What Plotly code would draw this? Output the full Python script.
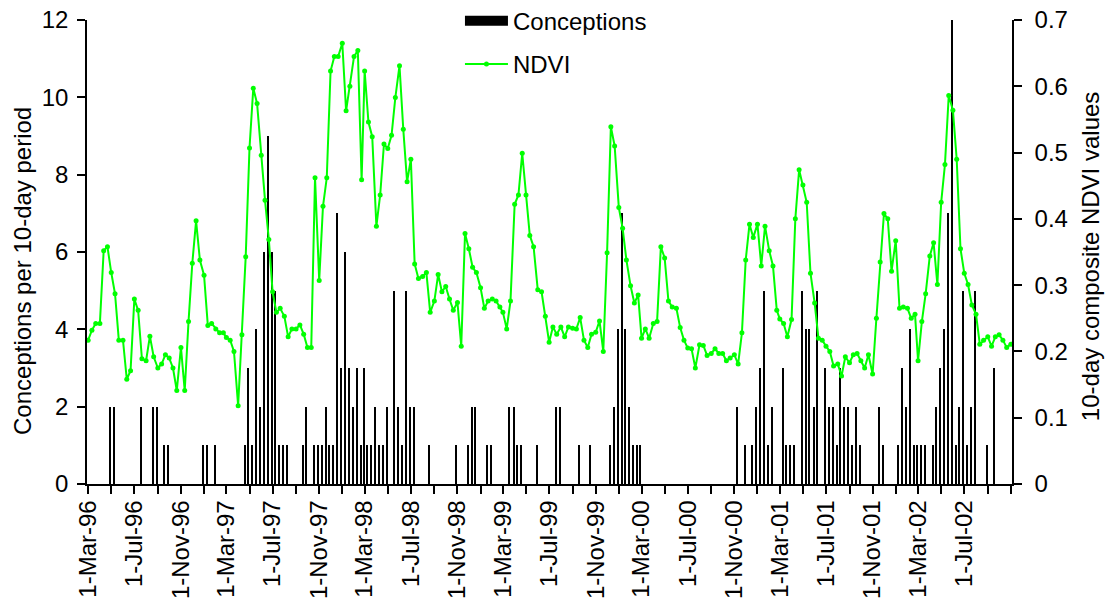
import pandas as pd
import plotly.graph_objects as go

# ---------------- data ----------------
# 10-day periods (dekads: 1st, 11th, 21st of each month), 1-Mar-96 .. 1-Nov-02
first_month = "1996-03-01"
last_month = "2002-11-01"
n_periods = 241

# 10-day composite NDVI values (right axis)
ndvi = [
    0.217, 0.232, 0.242, 0.242, 0.352, 0.358, 0.319, 0.287, 0.217, 0.217,
    0.158, 0.171, 0.279, 0.262, 0.189, 0.186, 0.223, 0.192, 0.175, 0.181,
    0.195, 0.190, 0.175, 0.141, 0.206, 0.141, 0.245, 0.333, 0.397, 0.338,
    0.315, 0.239, 0.242, 0.234, 0.228, 0.228, 0.221, 0.217, 0.200, 0.118,
    0.225, 0.343, 0.507, 0.597, 0.574, 0.496, 0.428, 0.369, 0.290, 0.259,
    0.265, 0.253, 0.222, 0.234, 0.234, 0.240, 0.226, 0.206, 0.206, 0.462,
    0.307, 0.419, 0.462, 0.623, 0.645, 0.645, 0.665, 0.563, 0.600, 0.645,
    0.654, 0.459, 0.623, 0.546, 0.524, 0.389, 0.436, 0.513, 0.506, 0.526,
    0.583, 0.631, 0.535, 0.456, 0.490, 0.332, 0.310, 0.313, 0.319, 0.259,
    0.276, 0.316, 0.290, 0.298, 0.279, 0.262, 0.274, 0.208, 0.378, 0.355,
    0.327, 0.319, 0.296, 0.265, 0.276, 0.279, 0.276, 0.267, 0.259, 0.234,
    0.276, 0.422, 0.436, 0.499, 0.436, 0.375, 0.358, 0.293, 0.290, 0.253,
    0.214, 0.237, 0.226, 0.237, 0.222, 0.237, 0.235, 0.234, 0.251, 0.217,
    0.206, 0.226, 0.229, 0.246, 0.200, 0.349, 0.539, 0.510, 0.417, 0.386,
    0.338, 0.299, 0.273, 0.285, 0.220, 0.234, 0.220, 0.242, 0.245, 0.358,
    0.341, 0.276, 0.267, 0.265, 0.236, 0.217, 0.205, 0.204, 0.175, 0.210,
    0.209, 0.194, 0.197, 0.204, 0.197, 0.197, 0.186, 0.190, 0.195, 0.181,
    0.228, 0.338, 0.392, 0.372, 0.392, 0.329, 0.389, 0.352, 0.329, 0.262,
    0.249, 0.242, 0.222, 0.248, 0.400, 0.474, 0.451, 0.425, 0.318, 0.273,
    0.220, 0.217, 0.208, 0.200, 0.178, 0.181, 0.163, 0.192, 0.183, 0.195,
    0.197, 0.186, 0.175, 0.195, 0.166, 0.250, 0.335, 0.408, 0.400, 0.321,
    0.367, 0.265, 0.267, 0.265, 0.250, 0.256, 0.186, 0.245, 0.287, 0.344,
    0.364, 0.301, 0.425, 0.482, 0.586, 0.564, 0.490, 0.355, 0.318, 0.301,
    0.270, 0.256, 0.211, 0.217, 0.222, 0.208, 0.222, 0.225, 0.217, 0.206,
    0.211,
]

# Conceptions per 10-day period (left axis)
conceptions = [
    0, 0, 0, 0, 0, 0, 2, 2, 0, 0,   0, 0, 0, 0, 2, 0, 0, 2, 2, 0,
    1, 1, 0, 0, 0, 0, 0, 0, 0, 0,   1, 1, 0, 1, 0, 0, 0, 0, 0, 0,
    0, 1, 3, 1, 4, 2, 6, 9, 6, 5,   1, 1, 1, 0, 0, 0, 1, 2, 0, 1,
    1, 1, 2, 1, 1, 7, 3, 6, 3, 2,   3, 1, 3, 1, 1, 2, 1, 1, 2, 0,
    5, 2, 1, 5, 2, 2, 0, 0, 0, 1,   0, 0, 0, 0, 0, 0, 1, 0, 0, 1,
    2, 2, 0, 0, 1, 1, 0, 0, 0, 0,   2, 2, 1, 1, 0, 0, 0, 1, 0, 0,
    0, 0, 2, 2, 0, 0, 0, 0, 1, 0,   0, 1, 0, 0, 0, 0, 1, 2, 4, 7,
    4, 2, 1, 1, 1, 0, 0, 0, 0, 0,   0, 0, 0, 0, 0, 0, 0, 0, 0, 0,
    0, 0, 0, 0, 0, 0, 0, 0, 0, 2,   0, 1, 0, 1, 2, 3, 5, 1, 2, 0,
    0, 3, 1, 1, 1, 0, 5, 4, 4, 2,   5, 0, 3, 2, 2, 1, 3, 2, 2, 1,
    2, 1, 0, 0, 0, 0, 2, 1, 0, 0,   0, 1, 3, 2, 4, 1, 1, 1, 1, 0,
    1, 2, 3, 4, 7, 12, 1, 2, 5, 1,  2, 5, 0, 0, 1, 0, 3, 0, 0, 0,
    0,
]

# x-axis tick labels (every 4 months; ticks every 2 months)
xtick_labels = [
    "1-Mar-96", "1-Jul-96", "1-Nov-96", "1-Mar-97", "1-Jul-97", "1-Nov-97",
    "1-Mar-98", "1-Jul-98", "1-Nov-98", "1-Mar-99", "1-Jul-99", "1-Nov-99",
    "1-Mar-00", "1-Jul-00", "1-Nov-00", "1-Mar-01", "1-Jul-01", "1-Nov-01",
    "1-Mar-02", "1-Jul-02",
]
left_ticks = [0, 2, 4, 6, 8, 10, 12]
right_ticks = [0, 0.1, 0.2, 0.3, 0.4, 0.5, 0.6, 0.7]
left_title = "Conceptions per 10-day period"
right_title = "10-day composite NDVI values"

# ---------------- build ----------------
months = pd.date_range(first_month, last_month, freq="MS")
dates = [m + pd.Timedelta(days=d) for m in months for d in (0, 10, 20)][:n_periods]

tick_dates = list(pd.date_range(first_month, last_month, freq="2MS"))
tick_text = [xtick_labels[i // 2] if (i % 2 == 0 and i // 2 < len(xtick_labels)) else ""
             for i in range(len(tick_dates))]

DAY = 86400000
FONT = "Liberation Sans, Arial, sans-serif"
FS = 24
x_range = ["1996-02-27", "2002-11-04"]

fig = go.Figure()
bar_w = 3.4 * DAY
fig.add_trace(go.Bar(
    x=dates, y=conceptions, name="Conceptions",
    marker=dict(color="black", line=dict(width=0)),
    width=bar_w, offset=-bar_w / 2 - 2.5 * DAY,
    showlegend=False, legendgroup="c",
))
# legend proxy for the bars (wide black block)
fig.add_trace(go.Scatter(
    x=[None], y=[None], mode="lines", name="Conceptions",
    line=dict(color="black", width=13), legendgroup="c", showlegend=True,
))
fig.add_trace(go.Scatter(
    x=dates, y=ndvi, name="NDVI", yaxis="y2", mode="lines+markers",
    line=dict(color="#00ff00", width=2),
    marker=dict(color="#00ff00", size=5, symbol="circle"),
    legendgroup="n",
))

axis_common = dict(showgrid=False, zeroline=False, showline=True,
                   linecolor="black", linewidth=1.5, automargin=False,
                   tickcolor="black", tickwidth=1.5, ticklen=8,
                   ticklabeloverflow="allow",
                   tickfont=dict(family=FONT, size=FS, color="black"))
overlay_common = dict(ticks="inside", ticklen=8, tickwidth=1.5,
                      tickcolor="black", showticklabels=False,
                      showline=False, showgrid=False, zeroline=False,
                      automargin=False)

fig.update_layout(
    width=1107, height=599,
    margin=dict(l=87, r=95, t=20, b=115, autoexpand=False),
    paper_bgcolor="white", plot_bgcolor="white",
    bargap=0,
    font=dict(family=FONT, size=FS, color="black"),
    xaxis=dict(type="date", range=x_range, tickmode="array",
               tickvals=tick_dates, ticktext=tick_text, ticks="outside",
               tickangle=-90, ticklabelstandoff=-3, **axis_common),
    xaxis2=dict(type="date", range=x_range, overlaying="x", anchor="y",
                tickmode="array", tickvals=tick_dates, **overlay_common),
    yaxis=dict(range=[0, 12], tickmode="array", tickvals=left_ticks,
               ticks="outside", ticklabelstandoff=4, **axis_common),
    yaxis3=dict(range=[0, 12], overlaying="y", anchor="x", side="left",
                tickmode="array", tickvals=left_ticks, **overlay_common),
    yaxis2=dict(range=[0, 0.7], overlaying="y", side="right", anchor="x",
                tickmode="array", tickvals=right_ticks, ticks="outside",
                ticklabelstandoff=8, **axis_common),
    yaxis4=dict(range=[0, 0.7], overlaying="y", side="right", anchor="x",
                tickmode="array", tickvals=right_ticks, **overlay_common),
    legend=dict(xref="paper", yref="paper", x=0.4032, y=1.046,
                xanchor="left", yanchor="top",
                bgcolor="rgba(0,0,0,0)", borderwidth=0,
                traceorder="grouped", tracegroupgap=9, itemwidth=43,
                font=dict(family=FONT, size=FS, color="black")),
    annotations=[
        dict(text=left_title, xref="paper", yref="paper", x=-0.0703, y=0.459,
             xanchor="center", yanchor="middle", textangle=-90,
             showarrow=False, font=dict(family=FONT, size=FS, color="black")),
        dict(text=right_title, xref="paper", yref="paper", x=1.0843, y=0.491,
             xanchor="center", yanchor="middle", textangle=-90,
             showarrow=False, font=dict(family=FONT, size=FS, color="black")),
    ],
)

fig.write_html("out.html",
               config={"displayModeBar": False},
               post_script="document.body.style.margin='0px';")
